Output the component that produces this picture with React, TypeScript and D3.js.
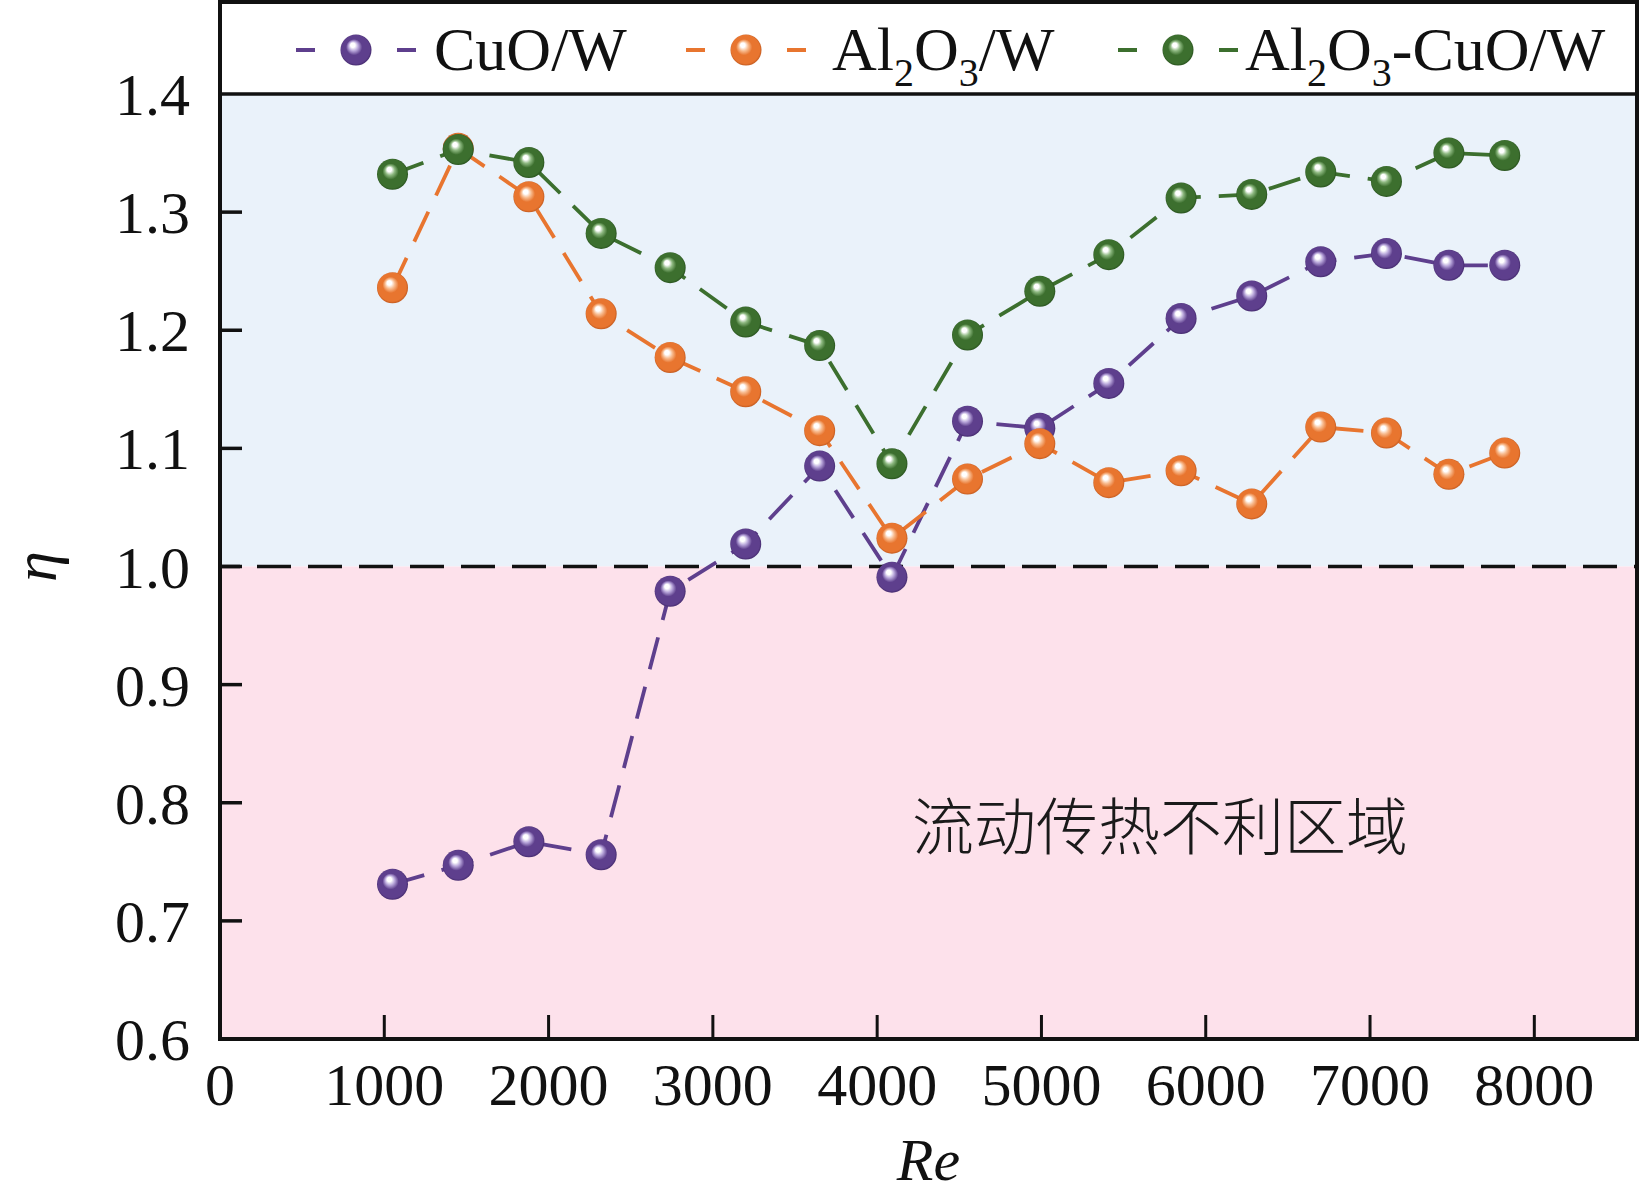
import React from "react";
import * as d3 from "d3";

const reValues = [1050, 1450, 1880, 2320, 2740, 3200, 3650, 4090, 4550, 4990, 5410, 5850, 6280, 6700, 7100, 7480, 7820];
const cuoW = [0.731, 0.747, 0.767, 0.756, 0.979, 1.019, 1.085, 0.991, 1.123, 1.117, 1.155, 1.210, 1.229, 1.258, 1.265, 1.255, 1.255];
const al2o3W = [1.236, 1.354, 1.313, 1.214, 1.177, 1.148, 1.115, 1.024, 1.074, 1.104, 1.071, 1.081, 1.053, 1.118, 1.113, 1.078, 1.096];
const hybridW = [1.332, 1.353, 1.342, 1.282, 1.253, 1.207, 1.187, 1.087, 1.196, 1.233, 1.264, 1.312, 1.315, 1.334, 1.326, 1.350, 1.348];
const xTicks = [0, 1000, 2000, 3000, 4000, 5000, 6000, 7000, 8000];
const yTicks = [0.6, 0.7, 0.8, 0.9, 1.0, 1.1, 1.2, 1.3, 1.4];

const W = 1640;
const H = 1201;
const L = 220, R = 1637, T = 2, B = 1039;
const serif = "'Liberation Serif', 'Times New Roman', serif";

const series = [
  { id: "cuo", values: cuoW, color: "#5E3F8D", light: "#B8A6DA", dark: "#3E2566" },
  { id: "al", values: al2o3W, color: "#E8752F", light: "#F8BC90", dark: "#B9531A" },
  { id: "hyb", values: hybridW, color: "#3C6F2E", light: "#8DB880", dark: "#234A19" },
];

export default function App() {
  const x = d3.scaleLinear().domain([0, 8625]).range([L, R]);
  const y = d3.scaleLinear().domain([0.6, 1.4]).range([B, 94]);
  const yTop = y(1.4);
  const line = d3.line<[number, number]>().x((d) => x(d[0])).y((d) => y(d[1]));

  const legendY = 50;
  const textY = 70;
  const legendItems = [
    { s: series[0], l1: 296, l2: 416, cx: 356, tx: 434 },
    { s: series[1], l1: 686, l2: 806, cx: 746, tx: 832 },
    { s: series[2], l1: 1118, l2: 1238, cx: 1178, tx: 1245 },
  ];

  const Sub = ({ children }: { children: string }) => (
    <tspan fontSize={40} dy={16}>{children}</tspan>
  );

  const MR = 15.5;

  return (
    <svg width={W} height={H} style={{ position: "absolute", left: 0, top: 0, background: "#fff" }}>
      <defs>
        {series.map((s) => (
          <radialGradient key={s.id} id={`g-${s.id}`} cx="0.5" cy="0.5" r="0.52" fx="0.38" fy="0.32">
            <stop offset="0" stopColor="#ffffff" />
            <stop offset="0.14" stopColor="#ffffff" />
            <stop offset="0.3" stopColor={s.light} />
            <stop offset="0.5" stopColor={s.color} />
            <stop offset="0.88" stopColor={s.color} />
            <stop offset="1" stopColor={s.dark} />
          </radialGradient>
        ))}
      </defs>
      {/* backgrounds */}
      <rect x={L} y={T} width={R - L} height={yTop - T} fill="#ffffff" />
      <rect x={L} y={yTop} width={R - L} height={y(1.0) - yTop} fill="#EAF2FA" />
      <rect x={L} y={y(1.0)} width={R - L} height={B - y(1.0)} fill="#FDE1EB" />

      {/* ticks */}
      {yTicks.filter((t) => t > 0.6 && t < 1.4).map((t) => (
        <line key={t} x1={L} x2={L + 22} y1={y(t)} y2={y(t)} stroke="#111" strokeWidth={3.5} />
      ))}
      {xTicks.filter((t) => t > 0).map((t) => (
        <line key={t} x1={x(t)} x2={x(t)} y1={B} y2={B - 24} stroke="#111" strokeWidth={3} />
      ))}

      {/* reference line at 1.0 */}
      <line x1={L} x2={R} y1={y(1.0)} y2={y(1.0)} stroke="#111" strokeWidth={3.5} strokeDasharray="34 17" strokeDashoffset={14} />

      {/* region label */}
      <text x={1160} y={850} textAnchor="middle" fontSize={62} fontFamily="'Noto Sans CJK SC', sans-serif" fontWeight={300} fill="#1a1a1a">
        流动传热不利区域
      </text>

      {/* series lines */}
      {series.map((s) => (
        <path
          key={s.id}
          d={line(reValues.map((r, i) => [r, s.values[i]] as [number, number])) || ""}
          fill="none"
          stroke={s.color}
          strokeWidth={3.8}
          strokeDasharray="33 18"
        />
      ))}
      {/* markers */}
      {series.map((s) => (
        <g key={s.id}>
          {reValues.map((r, i) => (
            <circle key={i} cx={x(r)} cy={y(s.values[i])} r={MR} fill={`url(#g-${s.id})`} />
          ))}
        </g>
      ))}

      {/* frame */}
      <line x1={L} x2={R} y1={yTop} y2={yTop} stroke="#111" strokeWidth={3.5} />
      <rect x={L} y={T} width={R - L} height={B - T} fill="none" stroke="#111" strokeWidth={4} />

      {/* y tick labels */}
      {yTicks.map((t) => (
        <text key={t} x={190} y={y(t) + 21} textAnchor="end" fontSize={60} fontFamily={serif} fill="#111">
          {t.toFixed(1)}
        </text>
      ))}
      {/* x tick labels */}
      {xTicks.map((t) => (
        <text key={t} x={x(t)} y={1105} textAnchor="middle" fontSize={60} fontFamily={serif} fill="#111">
          {t}
        </text>
      ))}

      {/* axis titles */}
      <text x={(L + R) / 2} y={1180} textAnchor="middle" fontSize={60} fontStyle="italic" fontFamily={serif} fill="#111">
        Re
      </text>
      <text transform={`translate(56, ${(y(0.6) + y(1.4)) / 2}) rotate(-90)`} textAnchor="middle" fontSize={62} fontStyle="italic" fontFamily={serif} fill="#111">
        η
      </text>

      {/* legend */}
      {legendItems.map((it) => (
        <g key={it.s.id}>
          <line x1={it.l1} x2={it.l2} y1={legendY} y2={legendY} stroke={it.s.color} strokeWidth={3.8} strokeDasharray="19 82" />
          <circle cx={it.cx} cy={legendY} r={MR} fill={`url(#g-${it.s.id})`} />
        </g>
      ))}
      <text x={legendItems[0].tx} y={textY} fontSize={62} fontFamily={serif} fill="#111">CuO/W</text>
      <text x={legendItems[1].tx} y={textY} fontSize={62} fontFamily={serif} fill="#111">
        Al<Sub>2</Sub><tspan dy={-16}>O</tspan><Sub>3</Sub><tspan dy={-16}>/W</tspan>
      </text>
      <text x={legendItems[2].tx} y={textY} fontSize={62} fontFamily={serif} fill="#111">
        Al<Sub>2</Sub><tspan dy={-16}>O</tspan><Sub>3</Sub><tspan dy={-16}>-CuO/W</tspan>
      </text>
    </svg>
  );
}
